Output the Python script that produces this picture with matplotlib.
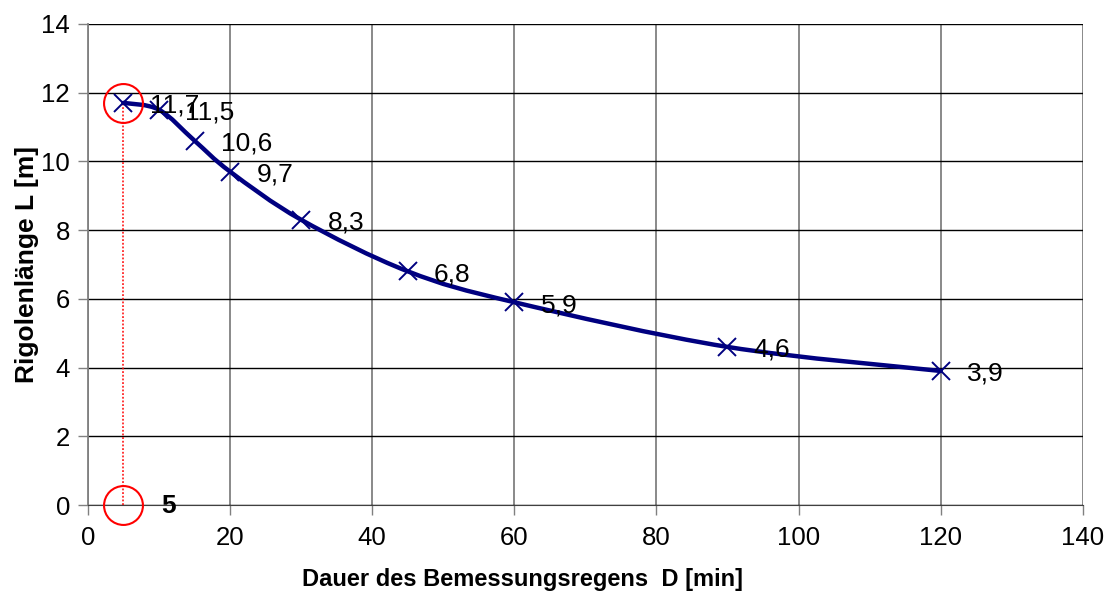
import numpy as np
import matplotlib.pyplot as plt
from matplotlib.path import Path
from matplotlib.patches import PathPatch

plt.rcParams['font.family'] = ['Liberation Sans', 'DejaVu Sans']

# ── Daten ─────────────────────────────────────────────────────────────────────
dauer = [5, 10, 15, 20, 30, 45, 60, 90, 120]
laenge = [11.7, 11.5, 10.6, 9.7, 8.3, 6.8, 5.9, 4.6, 3.9]
beschriftung = ['11,7', '11,5', '10,6', '9,7', '8,3', '6,8', '5,9', '4,6', '3,9']
d_wahl = 5
l_wahl = 11.7

navy = '#000080'

fig = plt.figure(figsize=(11.19, 6.03), dpi=100)
ax = fig.add_axes([0.0786, 0.1625, 0.889, 0.798])

# geglättete Linie (Excel-artig, kubische Bezier-Segmente)
px = np.array(dauer, dtype=float)
py = np.array(laenge, dtype=float)
n = len(px)
verts = [(px[0], py[0])]
codes = [Path.MOVETO]
for i in range(n - 1):
    a = max(i - 1, 0)
    b = min(i + 2, n - 1)
    c1 = (px[i] + (px[i + 1] - px[a]) / 6, py[i] + (py[i + 1] - py[a]) / 6)
    c2 = (px[i + 1] - (px[b] - px[i]) / 6, py[i + 1] - (py[b] - py[i]) / 6)
    verts += [c1, c2, (px[i + 1], py[i + 1])]
    codes += [Path.CURVE4] * 3
ax.add_patch(PathPatch(Path(verts, codes), facecolor='none', edgecolor=navy,
                       linewidth=3.2, capstyle='round', joinstyle='round', zorder=3))

ax.plot(dauer, laenge, linestyle='none', marker='x', markersize=13,
        markeredgewidth=1.4, color=navy, zorder=4)

for xi, yi, txt in zip(dauer, laenge, beschriftung):
    ax.annotate(txt, (xi, yi), xytext=(19, -2), textcoords='offset points',
                ha='left', va='center', fontsize=19, color='black', zorder=5)

# Ablesehilfe
ax.plot([d_wahl, d_wahl], [0, l_wahl], color='red', linestyle=(0, (1.2, 1.2)),
        linewidth=1.1, zorder=2)
ax.plot([d_wahl, d_wahl], [0, l_wahl], linestyle='none', marker='o',
        markersize=28, markerfacecolor='none', markeredgecolor='red',
        markeredgewidth=1.5, zorder=5, clip_on=False)
ax.annotate(str(d_wahl), (d_wahl, 0), xytext=(27, -1), textcoords='offset points',
            ha='left', va='center', fontsize=19, fontweight='bold')

ax.set_xlim(0, 140)
ax.set_ylim(0, 14)
ax.set_xticks(np.arange(0, 141, 20))
ax.set_yticks(np.arange(0, 15, 2))
ax.tick_params(axis='both', direction='out', length=7, width=1, labelsize=18.5,
               color='#808080')
ax.tick_params(axis='x', pad=8)
ax.tick_params(axis='y', pad=6)

ax.xaxis.grid(True, color='#808080', linewidth=1.3)
ax.yaxis.grid(True, color='black', linewidth=1.0)
ax.set_axisbelow(True)
for s in ['top', 'right']:
    ax.spines[s].set_visible(False)
ax.spines['left'].set_color('#808080')
ax.spines['bottom'].set_color('#404040')
ax.spines['left'].set_linewidth(1.3)

ax.set_xlabel('Dauer des Bemessungsregens  D [min]', fontsize=17,
              fontweight='bold')
ax.xaxis.set_label_coords(0.437, -0.131)
ax.set_ylabel('Rigolenlänge L [m]', fontsize=19, fontweight='bold')
ax.yaxis.set_label_coords(-0.049, 0.5)

fig.savefig('out.png', dpi=100)
